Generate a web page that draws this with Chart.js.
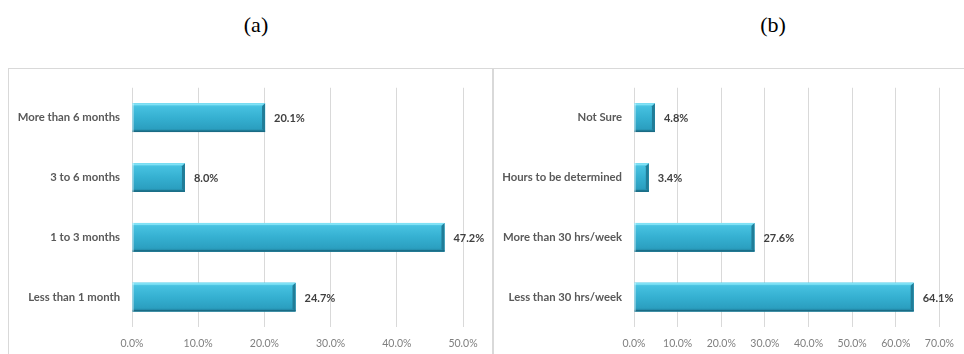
<!DOCTYPE html>
<html>
<head>
<meta charset="utf-8">
<script src="https://cdn.jsdelivr.net/npm/chart.js@4.4.1/dist/chart.umd.min.js"></script>
<style>
    html, body { margin: 0; padding: 0; background: #fff; }
    body { width: 964px; height: 354px; position: relative; overflow: hidden; }
    .caption { position: absolute; top: 12px; font-family: "Liberation Serif", "Times New Roman", serif; font-size: 22px; color: #000; transform: translateX(-50%); }
    .panel { position: absolute; top: 68px; height: 300px; border: 1px solid #d9d9d9; box-sizing: border-box; }
    canvas { position: absolute; top: 69px; }
</style>
</head>
<body>
<div class="caption" style="left:256px">(a)</div>
<div class="caption" style="left:773px">(b)</div>
<div class="panel" style="left:8px; width:486px"></div>
<div class="panel" style="left:492px; width:480px"></div>
<canvas id="durationChart" width="483" height="285" style="left:9px"></canvas>
<canvas id="hoursChart" width="471" height="285" style="left:493px"></canvas>

<script>
// Panel (a): how long the work lasts
var durationLabels = ['More than 6 months', '3 to 6 months', '1 to 3 months', 'Less than 1 month'];
var durationValues = [20.1, 8.0, 47.2, 24.7];
var durationMax = 50;

// Panel (b): hours per week
var hoursLabels = ['Not Sure', 'Hours to be determined', 'More than 30 hrs/week', 'Less than 30 hrs/week'];
var hoursValues = [4.8, 3.4, 27.6, 64.1];
var hoursMax = 70;

var labelFont = 'Lato, "Open Sans", sans-serif';

// beveled look for the bars + value labels at the bar ends
var bevelBars = {
    id: 'bevelBars',
    afterDatasetsDraw: function(chart) {
        var ctx = chart.ctx;
        var meta = chart.getDatasetMeta(0);
        var values = chart.data.datasets[0].data;
        meta.data.forEach(function(bar, i) {
            var p = bar.getProps(['x', 'y', 'base', 'height'], true);
            var left = p.base, right = p.x;
            var top = p.y - p.height / 2, bottom = p.y + p.height / 2;
            var h = bottom - top;

            ctx.save();
            var g = ctx.createLinearGradient(0, top, 0, bottom);
            g.addColorStop(0, '#66d3ec');
            g.addColorStop(0.12, '#46c1e0');
            g.addColorStop(0.5, '#35b0d1');
            g.addColorStop(0.88, '#2b9fc0');
            g.addColorStop(1, '#1d7a96');
            ctx.fillStyle = g;
            ctx.fillRect(left, top, right - left, h);

            // right bevel face
            var bw = 3;
            ctx.fillStyle = '#217d98';
            ctx.beginPath();
            ctx.moveTo(right - bw, top + bw);
            ctx.lineTo(right, top);
            ctx.lineTo(right, bottom);
            ctx.lineTo(right - bw, bottom - bw);
            ctx.closePath();
            ctx.fill();

            // top highlight
            ctx.fillStyle = '#80e2f6';
            ctx.beginPath();
            ctx.moveTo(left, top);
            ctx.lineTo(right, top);
            ctx.lineTo(right - bw, top + 2);
            ctx.lineTo(left, top + 2);
            ctx.closePath();
            ctx.fill();

            // bottom shade
            ctx.fillStyle = '#1a6b84';
            ctx.fillRect(left, bottom - 1.5, right - left, 1.5);

            // left edge light line
            ctx.fillStyle = 'rgba(255,255,255,0.7)';
            ctx.fillRect(left, top, 1, h);

            // value label
            ctx.fillStyle = '#404040';
            ctx.font = 'bold 11px ' + labelFont;
            ctx.textAlign = 'left';
            ctx.textBaseline = 'middle';
            ctx.fillText(values[i].toFixed(1) + '%', right + 9, p.y + 1);
            ctx.restore();
        });
    }
};

function makeChart(id, labels, values, maxVal, axisWidth, padRight) {
    return new Chart(document.getElementById(id), {
        type: 'bar',
        data: {
            labels: labels,
            datasets: [{
                data: values,
                backgroundColor: '#35b0d1',
                borderWidth: 0,
                categoryPercentage: 0.96,
                barPercentage: 0.5
            }]
        },
        options: {
            indexAxis: 'y',
            responsive: false,
            animation: false,
            layout: { padding: { top: 15, right: padRight, bottom: 0, left: 0 } },
            scales: {
                x: {
                    min: 0,
                    max: maxVal,
                    afterFit: function(s) { s.height = 27; },
                    grid: { color: '#d9d9d9', lineWidth: 1, drawTicks: false },
                    border: { display: false },
                    ticks: {
                        stepSize: 10,
                        padding: 10,
                        color: '#7f7f7f',
                        font: { family: labelFont, size: 10.5 },
                        callback: function(v) { return Number(v).toFixed(1) + '%'; }
                    }
                },
                y: {
                    afterFit: function(s) { s.width = axisWidth; },
                    grid: { display: false, drawTicks: false },
                    border: { display: false },
                    ticks: {
                        padding: 12,
                        color: '#595959',
                        font: { family: labelFont, size: 11.3, weight: 'bold' }
                    }
                }
            },
            plugins: {
                legend: { display: false },
                tooltip: { enabled: false }
            }
        },
        plugins: [bevelBars]
    });
}

makeChart('durationChart', durationLabels, durationValues, durationMax, 123, 29);
makeChart('hoursChart', hoursLabels, hoursValues, hoursMax, 141, 17);
</script>
</body>
</html>
